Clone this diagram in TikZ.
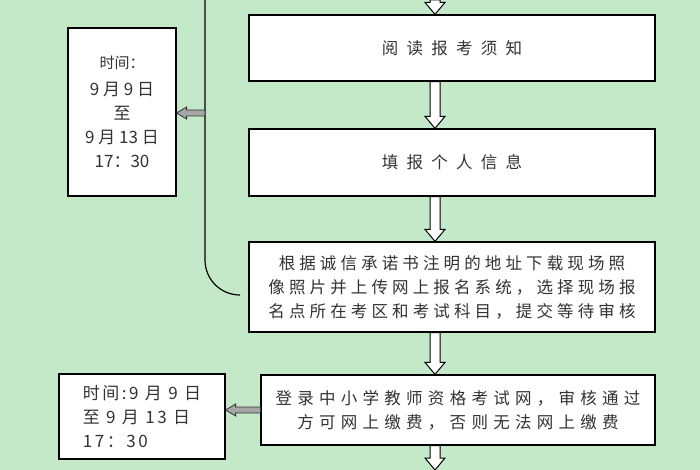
\documentclass[tikz,border=0pt]{standalone}
\usepackage{fontspec}
\newfontfamily\cjk{Noto Sans CJK SC}
\usetikzlibrary{positioning}
\definecolor{bgreen}{HTML}{C4E9C9}
\definecolor{txt}{HTML}{333333}
\newcommand{\spaced}[1]{\addfontfeature{LetterSpace=#1}}
% hollow down arrow from the bottom of one box to the top of the next
\newcommand{\hollowarrow}[2]{%
  \path (#1) coordinate (ha1) (#2) coordinate (ha2);
  \draw[fill=white,line width=1pt] (ha1) ++(-5pt,0) -- ([xshift=-5pt,yshift=12pt]ha2)
    -- ([xshift=-10pt,yshift=12pt]ha2) -- (ha2) -- ([xshift=10pt,yshift=12pt]ha2)
    -- ([xshift=5pt,yshift=12pt]ha2) -- ([xshift=5pt]ha1) -- cycle;}
% grey left arrow
\newcommand{\greyarrow}[2]{%
  \path (#1) coordinate (ga1) (#2) coordinate (ga2);
  \draw[fill=gray!70,draw=black!80,line width=0.8pt] (ga1) ++(0,3pt) -- ([xshift=10pt,yshift=3pt]ga2)
    -- ([xshift=10pt,yshift=6pt]ga2) -- (ga2) -- ([xshift=10pt,yshift=-6pt]ga2)
    -- ([xshift=10pt,yshift=-3pt]ga2) -- ([yshift=-3pt]ga1) -- cycle;}
\begin{document}
\begin{tikzpicture}[x=1pt,y=-1pt,
  box/.style={draw,line width=1.2pt,fill=white,inner sep=0pt,text=txt,font=\cjk\fontsize{16.5}{24}\selectfont},
  every path/.append style={line width=1.2pt}]
\fill[bgreen] (0,0) rectangle (700,470);
\useasboundingbox (0,0) rectangle (700,470);
\node[box,minimum width=406pt,minimum height=66pt] (read) at (452,48) {\spaced{50}阅读报考须知};
\node[box,minimum width=406pt,minimum height=67pt] (info) at (452,162.5) {\spaced{50}填报个人信息};
\node[box,minimum width=406pt,minimum height=90pt,align=center] (upload) at (452,287)
  {\spaced{25}根据诚信承诺书注明的地址下载现场照\\\spaced{25}像照片并上传网上报名系统，选择现场报\\\spaced{25}名点所在考区和考试科目，提交等待审核};
\node[box,minimum width=394pt,minimum height=70pt,align=center] (login) at (458,410)
  {\spaced{32}登录中小学教师资格考试网，审核通过\\\spaced{32}方可网上缴费，否则无法网上缴费};
\node[box,minimum width=108pt,minimum height=168pt,align=center,font=\cjk\fontsize{17}{24}\selectfont] (timeA) at (122,112)
  {\fontsize{15}{24}\selectfont 时间：\\[3pt]9 月 9 日\\至\\9 月 13 日\\17：30};
\node[box,minimum width=166pt,minimum height=85pt,align=left,font=\cjk\fontsize{17}{24}\selectfont] (timeB) at (142,416.5)
  {\spaced{15}时间:9 月 9 日\\\spaced{15}至 9 月 13 日\\\spaced{15}17：30\hspace{60pt}};
\coordinate (top) at (435,0);
\coordinate (bottom) at (435,470);
\coordinate (brtop) at (205,0);
\coordinate (brmid) at (205,113);
\draw (brtop) -- (205,260) to[out=270,in=180] (240,295);
\hollowarrow{top}{read.north -| top}
\hollowarrow{read.south -| top}{info.north -| top}
\hollowarrow{info.south -| top}{upload.north -| top}
\hollowarrow{upload.south -| top}{login.north -| top}
\hollowarrow{login.south -| top}{bottom}
\greyarrow{brmid}{timeA.east |- brmid}
\greyarrow{login.west}{timeB.east |- login.west}
\end{tikzpicture}
\end{document}
